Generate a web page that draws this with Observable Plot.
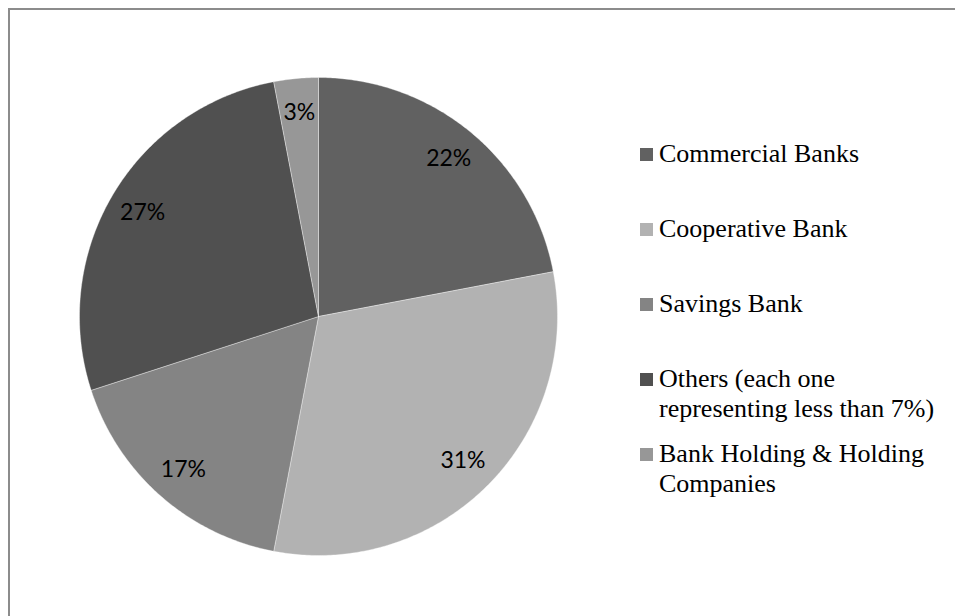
<!DOCTYPE html>
<html><head><meta charset="utf-8">
<script src="https://cdn.jsdelivr.net/npm/d3@7"></script>
<script src="https://cdn.jsdelivr.net/npm/@observablehq/plot@0.6"></script>
<style>
html,body{margin:0;padding:0;background:#fff;overflow:hidden;width:955px;height:616px;}
#wrap{position:relative;width:955px;height:616px;overflow:hidden;}
#frame{position:absolute;left:8px;top:8px;width:1000px;height:700px;border-left:2px solid #8c8c8c;border-top:2px solid #8c8c8c;}
#chart{position:absolute;left:0;top:0;}
#legend{position:absolute;left:640px;top:139px;font-family:"Liberation Serif","Times New Roman",serif;font-size:26px;color:#000;}
.item{display:flex;align-items:flex-start;height:75px;}
.sw{width:13px;height:13px;margin-top:9px;margin-right:6px;flex:none;}
.lbl{line-height:30px;white-space:pre;}
</style></head>
<body><div id="wrap"><div id="frame"></div><div id="chart"></div><div id="legend"></div></div>
<script>
const categories = ["Commercial Banks","Cooperative Bank","Savings Bank","Others (each one representing less than 7%)","Bank Holding & Holding Companies"];
const legendLabels = ["Commercial Banks","Cooperative Bank","Savings Bank","Others (each one\nrepresenting less than 7%)","Bank Holding & Holding\nCompanies"];
const shares = [22, 31, 17, 27, 3];
const colors = ["#616161","#b2b2b2","#848484","#505050","#979797"];

const W = 955, H = 616, cx = 318, cy = 316, R = 239;

const data = categories.map((c, i) => ({cat: c, share: shares[i], color: colors[i]}));
const arcs = d3.pie().sort(null).value(d => d.share)(data);

const pts = [];
arcs.forEach(a => {
  const n = Math.max(4, Math.ceil((a.endAngle - a.startAngle) / 0.01));
  pts.push({cat: a.data.cat, color: a.data.color, x: 0, y: 0});
  for (let k = 0; k <= n; k++) {
    const t = a.startAngle + (a.endAngle - a.startAngle) * k / n;
    pts.push({cat: a.data.cat, color: a.data.color, x: R * Math.sin(t), y: -R * Math.cos(t)});
  }
  pts.push({cat: a.data.cat, color: a.data.color, x: 0, y: 0});
});

const labels = arcs.map(a => {
  const m = (a.startAngle + a.endAngle) / 2;
  return {text: a.data.share + "%", x: 0.855 * R * Math.sin(m), y: -0.855 * R * Math.cos(m)};
});

const chart = Plot.plot({
  width: W, height: H,
  margin: 0,
  x: {type: "linear", domain: [-cx, W - cx], range: [0, W], axis: null},
  y: {type: "linear", domain: [-cy, H - cy], range: [0, H], axis: null},
  color: {type: "identity"},
  style: {background: "transparent"},
  marks: [
    Plot.line(pts, {x: "x", y: "y", z: "cat", fill: "color", stroke: "#ffffff", strokeOpacity: 0.45, strokeWidth: 0.8, curve: "linear-closed"}),
    Plot.text(labels, {x: "x", y: "y", text: "text", fontSize: 23, fontFamily: "Lato, 'Open Sans', sans-serif", fill: "#000", textAnchor: "middle", lineAnchor: "middle"})
  ]
});
document.getElementById("chart").appendChild(chart);

const lg = document.getElementById("legend");
legendLabels.forEach((l, i) => {
  const it = document.createElement("div"); it.className = "item";
  const sw = document.createElement("div"); sw.className = "sw"; sw.style.background = colors[i];
  const tx = document.createElement("div"); tx.className = "lbl"; tx.textContent = l;
  it.appendChild(sw); it.appendChild(tx); lg.appendChild(it);
});
</script>
</body></html>
